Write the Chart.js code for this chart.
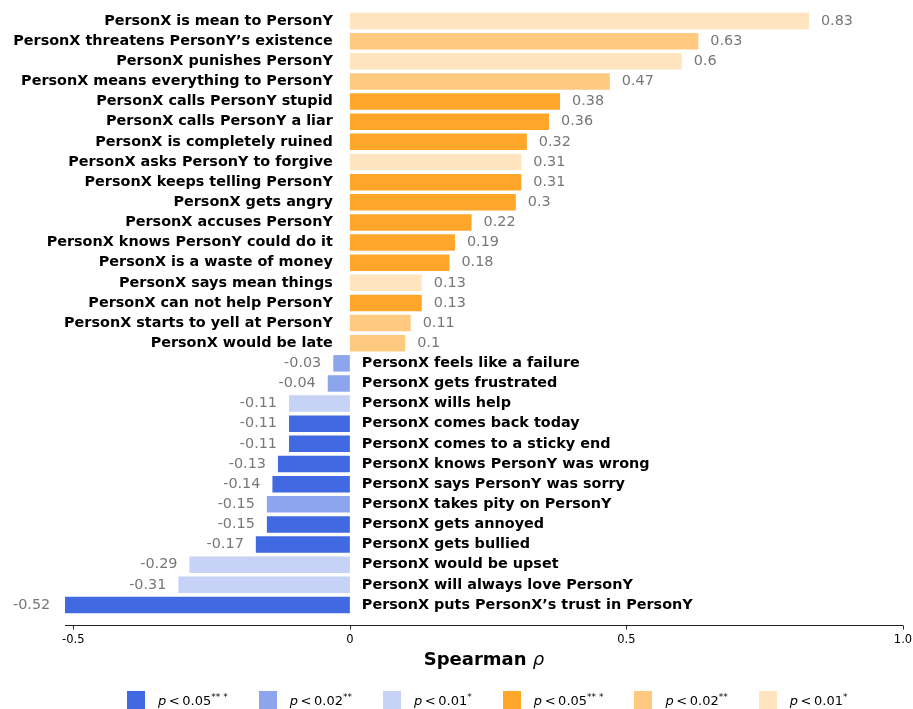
<!DOCTYPE html>
<html>
<head>
<meta charset="utf-8">
<script src="https://cdn.jsdelivr.net/npm/chart.js@4/dist/chart.umd.min.js"></script>
<style>
    body { margin: 0; background: #fff; overflow: hidden; }
    #wrap { position: relative; width: 913px; height: 709px; }
    #legend {
        position: absolute; left: 127px; top: 691px;
        display: flex; align-items: center;
        font-family: "DejaVu Sans", sans-serif; font-size: 13px; color: #000;
    }
    .item { display: flex; align-items: center; margin-right: 31px; }
    .box { width: 18px; height: 18px; margin-right: 13px; }
    .item sup { font-size: 9px; vertical-align: 5px; white-space: pre; }
</style>
</head>
<body>
<div id="wrap">
    <canvas id="rhoChart" width="913" height="709"></canvas>
    <div id="legend"></div>
</div>
<script>
// Chart data
const categories = [
    "PersonX is mean to PersonY",
    "PersonX threatens PersonY’s existence",
    "PersonX punishes PersonY",
    "PersonX means everything to PersonY",
    "PersonX calls PersonY stupid",
    "PersonX calls PersonY a liar",
    "PersonX is completely ruined",
    "PersonX asks PersonY to forgive",
    "PersonX keeps telling PersonY",
    "PersonX gets angry",
    "PersonX accuses PersonY",
    "PersonX knows PersonY could do it",
    "PersonX is a waste of money",
    "PersonX says mean things",
    "PersonX can not help PersonY",
    "PersonX starts to yell at PersonY",
    "PersonX would be late",
    "PersonX feels like a failure",
    "PersonX gets frustrated",
    "PersonX wills help",
    "PersonX comes back today",
    "PersonX comes to a sticky end",
    "PersonX knows PersonY was wrong",
    "PersonX says PersonY was sorry",
    "PersonX takes pity on PersonY",
    "PersonX gets annoyed",
    "PersonX gets bullied",
    "PersonX would be upset",
    "PersonX will always love PersonY",
    "PersonX puts PersonX’s trust in PersonY"
];

const rhoValues = [
    0.83, 0.63, 0.6, 0.47, 0.38, 0.36, 0.32, 0.31, 0.31, 0.3,
    0.22, 0.19, 0.18, 0.13, 0.13, 0.11, 0.1,
    -0.03, -0.04, -0.11, -0.11, -0.11, -0.13, -0.14, -0.15, -0.15,
    -0.17, -0.29, -0.31, -0.52
];

// 0 = p<0.05***, 1 = p<0.02**, 2 = p<0.01*
const sigLevels = [
    2, 1, 2, 1, 0, 0, 0, 2, 0, 0,
    0, 0, 0, 2, 0, 1, 1,
    1, 1, 2, 0, 0, 0, 0, 1, 0,
    0, 2, 2, 0
];

const tickValues = [-0.5, 0, 0.5, 1.0];

const legendLabels = [["0.05", "** *"], ["0.02", "**"], ["0.01", "*"]];

const blueShades = ["#4169E1", "#8DA5ED", "#C6D2F6"];
const orangeShades = ["#FFA62B", "#FFC980", "#FFE4BF"];

const fontFamily = '"DejaVu Sans", sans-serif';

let barColors = rhoValues.map((v, i) => v >= 0 ? orangeShades[sigLevels[i]] : blueShades[sigLevels[i]]);

// Labels next to bars, value labels, offset axis line and title
const annotatePlugin = {
    id: "annotate",
    afterDatasetsDraw(chart) {
        let ctx = chart.ctx;
        let xScale = chart.scales.x;
        let zeroX = xScale.getPixelForValue(0);
        let bars = chart.getDatasetMeta(0).data;

        ctx.save();
        ctx.textBaseline = "middle";
        bars.forEach((bar, i) => {
            let v = rhoValues[i];
            ctx.font = "bold 14.4px " + fontFamily;
            ctx.fillStyle = "#000";
            if (v >= 0) {
                ctx.textAlign = "right";
                ctx.fillText(categories[i], zeroX - 17, bar.y);
            } else {
                ctx.textAlign = "left";
                ctx.fillText(categories[i], zeroX + 12, bar.y);
            }
            ctx.font = "14.4px " + fontFamily;
            ctx.fillStyle = "#777";
            if (v >= 0) {
                ctx.textAlign = "left";
                ctx.fillText(String(v), bar.x + 12, bar.y);
            } else {
                ctx.textAlign = "right";
                ctx.fillText(String(v), bar.x - 12, bar.y);
            }
        });
        ctx.restore();
    },
    afterDraw(chart) {
        let ctx = chart.ctx;
        let xScale = chart.scales.x;
        let axisY = Math.round(chart.chartArea.bottom + 10) + 0.5;

        ctx.save();
        ctx.strokeStyle = "#222";
        ctx.lineWidth = 1;
        ctx.beginPath();
        ctx.moveTo(xScale.left, axisY);
        ctx.lineTo(xScale.right, axisY);
        tickValues.forEach(t => {
            let px = Math.round(xScale.getPixelForValue(t)) + 0.5;
            ctx.moveTo(px, axisY);
            ctx.lineTo(px, axisY + 4);
        });
        ctx.stroke();

        // Axis title: bold "Spearman " + italic rho
        let cx = (xScale.left + xScale.right) / 2;
        ctx.textBaseline = "alphabetic";
        ctx.textAlign = "left";
        ctx.fillStyle = "#000";
        ctx.font = "bold 18px " + fontFamily;
        let w1 = ctx.measureText("Spearman ").width;
        ctx.font = "italic 18px " + fontFamily;
        let w2 = ctx.measureText("ρ").width;
        let startX = cx - (w1 + w2) / 2;
        ctx.font = "bold 18px " + fontFamily;
        ctx.fillText("Spearman ", startX, 665);
        ctx.font = "italic 18px " + fontFamily;
        ctx.fillText("ρ", startX + w1, 665);
        ctx.restore();
    }
};

let ctx = document.getElementById("rhoChart").getContext("2d");

let rhoChart = new Chart(ctx, {
    type: "bar",
    data: {
        labels: categories,
        datasets: [{
            data: rhoValues,
            backgroundColor: barColors,
            barPercentage: 0.82,
            categoryPercentage: 1.0
        }]
    },
    options: {
        indexAxis: "y",
        responsive: false,
        animation: false,
        layout: { padding: { left: 65, right: 10, top: 11, bottom: 0 } },
        plugins: {
            legend: { display: false },
            tooltip: { enabled: false }
        },
        scales: {
            x: {
                min: -0.515,
                max: 1.0,
                afterBuildTicks: scale => {
                    scale.ticks = tickValues.map(v => ({ value: v }));
                },
                afterFit: scale => {
                    scale.height = 94;
                    scale.paddingLeft = 0;
                    scale.paddingRight = 0;
                },
                ticks: {
                    autoSkip: false,
                    maxRotation: 0,
                    padding: 18,
                    color: "#000",
                    font: { family: fontFamily, size: 11.5 },
                    callback: v => v === 0 ? "0" : v.toFixed(1)
                },
                grid: { display: false, drawTicks: false },
                border: { display: false }
            },
            y: { display: false }
        }
    },
    plugins: [annotatePlugin]
});

// Legend built from the same colour lists
let legendDiv = document.getElementById("legend");
let legendHtml = "";
[blueShades, orangeShades].forEach(shades => {
    shades.forEach((c, i) => {
        legendHtml += `<div class="item"><div class="box" style="background:${c}"></div>` +
            `<span><i>p</i>&thinsp;&lt;&thinsp;${legendLabels[i][0]}<sup>${legendLabels[i][1]}</sup></span></div>`;
    });
});
legendDiv.innerHTML = legendHtml;
</script>
</body>
</html>
